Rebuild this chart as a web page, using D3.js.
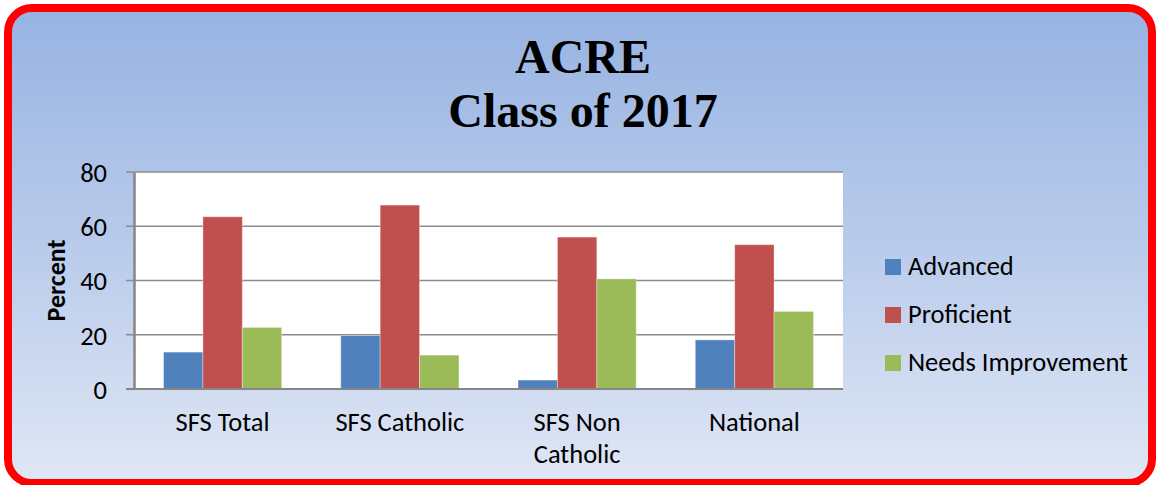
<!DOCTYPE html>
<html>
<head>
<meta charset="utf-8">
<script src="https://cdn.jsdelivr.net/npm/d3@7"></script>
<style>
  html, body { margin: 0; padding: 0; background: #ffffff; }
  svg { display: block; }
  .lbl { font-family: Carlito, Lato, "Open Sans", sans-serif; fill: #000; }
</style>
</head>
<body>
<svg id="chart" width="1156" height="485"></svg>
<script>
const titleLines = ["ACRE", "Class of 2017"];
const categories = [["SFS Total"], ["SFS Catholic"], ["SFS Non", "Catholic"], ["National"]];
const seriesNames = ["Advanced", "Proficient", "Needs Improvement"];
const advanced = [13.6, 19.7, 3.3, 18.1];
const proficient = [63.5, 67.8, 56.0, 53.2];
const needsImprovement = [22.7, 12.5, 40.6, 28.6];
const seriesColors = ["#4F81BD", "#C0504D", "#9BBB59"];
const yTicks = [0, 20, 40, 60, 80];
const yLabel = "Percent";

const seriesValues = [advanced, proficient, needsImprovement];
const catKeys = categories.map(c => c.join(" "));

const svg = d3.select("#chart");
const defs = svg.append("defs");
const grad = defs.append("linearGradient").attr("id", "bg").attr("x1", 0).attr("y1", 0).attr("x2", 0).attr("y2", 1);
grad.append("stop").attr("offset", "0%").attr("stop-color", "#97B3E2");
grad.append("stop").attr("offset", "50%").attr("stop-color", "#B9CBEB");
grad.append("stop").attr("offset", "100%").attr("stop-color", "#E0E7F5");

svg.append("rect").attr("x", 8).attr("y", 8).attr("width", 1144).attr("height", 475)
  .attr("rx", 24).attr("ry", 24)
  .attr("fill", "url(#bg)").attr("stroke", "#FF0000").attr("stroke-width", 8);

// title
const title = svg.append("text").attr("text-anchor", "middle")
  .style("font-family", "'Liberation Serif', 'Times New Roman', serif")
  .style("font-weight", "bold").style("font-size", "48px");
title.selectAll("tspan").data(titleLines).enter().append("tspan")
  .attr("x", 583).attr("y", (d, i) => 73 + i * 54).text(d => d);

const plot = { left: 134, right: 843, top: 172, bottom: 389 };

const x0 = d3.scaleBand().domain(catKeys).range([plot.left, plot.right])
  .paddingInner(1/3).paddingOuter(1/6);
const x1 = d3.scaleBand().domain(seriesNames).range([0, x0.bandwidth()]);
const y = d3.scaleLinear().domain([0, 80]).range([plot.bottom, plot.top]);

svg.append("rect").attr("x", plot.left).attr("y", plot.top)
  .attr("width", plot.right - plot.left).attr("height", plot.bottom - plot.top).attr("fill", "#fff");

// gridlines
svg.append("g").selectAll("line").data(yTicks).enter().append("line")
  .attr("x1", plot.left - 8).attr("x2", plot.right)
  .attr("y1", d => y(d)).attr("y2", d => y(d))
  .attr("stroke", "#8C8C8C").attr("stroke-width", 1.6);

// bars
const groups = svg.append("g").selectAll("g").data(catKeys).enter().append("g")
  .attr("transform", d => `translate(${x0(d)},0)`);
groups.selectAll("rect").data((d, ci) => seriesNames.map((s, si) => ({ s, si, v: seriesValues[si][ci] })))
  .enter().append("rect")
  .attr("x", d => x1(d.s)).attr("width", x1.bandwidth())
  .attr("y", d => y(d.v)).attr("height", d => y(0) - y(d.v))
  .attr("fill", d => seriesColors[d.si])
  .attr("stroke", "rgba(255,255,255,0.35)").attr("stroke-width", 1);

// y axis
const yAxis = d3.axisLeft(y).tickValues(yTicks).tickSize(0).tickPadding(27);
const yg = svg.append("g").attr("transform", `translate(${plot.left},0)`).call(yAxis);
yg.select(".domain").attr("stroke", "#868686").attr("stroke-width", 2.5);
yg.selectAll("text").attr("class", "lbl").style("font-size", "26.5px").attr("dy", "0.35em");

// x axis line
svg.append("line").attr("x1", plot.left - 8).attr("x2", plot.right)
  .attr("y1", y(0)).attr("y2", y(0)).attr("stroke", "#868686").attr("stroke-width", 2);

// category labels
const cl = svg.append("g").selectAll("text").data(categories).enter().append("text")
  .attr("class", "lbl").attr("text-anchor", "middle").style("font-size", "26.5px");
cl.selectAll("tspan").data((d, i) => d.map(t => ({ t, k: catKeys[i] }))).enter().append("tspan")
  .attr("x", d => x0(d.k) + x0.bandwidth() / 2)
  .attr("y", (d, i) => 431 + i * 32)
  .text(d => d.t);

// y label
svg.append("text").attr("class", "lbl").attr("text-anchor", "middle")
  .attr("transform", `translate(65,${(plot.top + plot.bottom) / 2}) rotate(-90)`)
  .style("font-size", "26px").style("font-weight", "bold").text(yLabel);

// legend
const lg = svg.append("g").selectAll("g").data(seriesNames).enter().append("g")
  .attr("transform", (d, i) => `translate(885,${259 + i * 48})`);
lg.append("rect").attr("width", 16).attr("height", 16).attr("fill", (d, i) => seriesColors[i]);
lg.append("text").attr("class", "lbl").attr("x", 23).attr("y", 16).style("font-size", "26.5px").text(d => d);
</script>
</body>
</html>
